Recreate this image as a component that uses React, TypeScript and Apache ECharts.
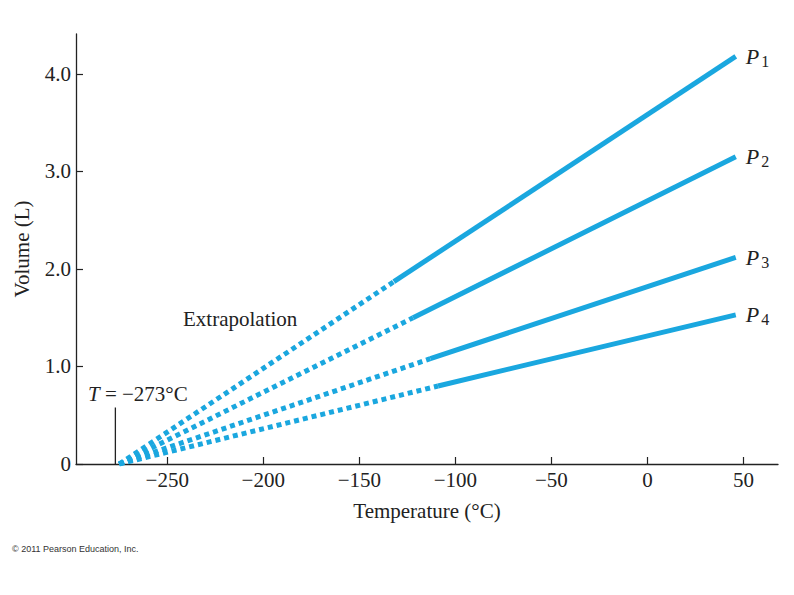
import React, { useEffect, useRef } from "react";
import * as echarts from "echarts";

const xTicks = [-250, -200, -150, -100, -50, 0, 50];
const yTicks = [0, 1, 2, 3, 4];
const pressureNames = ["1", "2", "3", "4"];
// absolute-zero convergence point
const zeroPoint: [number, number] = [-275, 0];
// start of measured (solid) segment for each pressure
const solidStart: [number, number][] = [
  [-132, 1.87],
  [-122, 1.5],
  [-113, 1.08],
  [-109, 0.8],
];
// end of measured segment for each pressure
const solidEnd: [number, number][] = [
  [46, 4.18],
  [46, 3.15],
  [46, 2.12],
  [46, 1.53],
];
const markerLine: [number, number][] = [
  [-277, 0],
  [-277, 0.58],
];

const COLOR = "#1aa7df";
const SERIF = "'Liberation Serif', 'Times New Roman', serif";
const TXT = "#222";

export default function App() {
  const ref = useRef<HTMLDivElement>(null);
  useEffect(() => {
    if (!ref.current) return;
    const chart = echarts.init(ref.current, null, { renderer: "svg" });
    const series: any[] = [];
    pressureNames.forEach((n, i) => {
      series.push({
        type: "line",
        data: [zeroPoint, solidStart[i]],
        symbol: "none",
        lineStyle: { color: COLOR, width: 5, type: [5, 4], cap: "butt" },
        silent: true,
      });
      series.push({
        type: "line",
        data: [solidStart[i], solidEnd[i]],
        symbol: "none",
        lineStyle: { color: COLOR, width: 5, cap: "butt" },
        silent: true,
        endLabel: {
          show: true,
          distance: 10,
          formatter: "{p|P}{s|" + n + "}",
          rich: {
            p: { fontFamily: SERIF, fontStyle: "italic", fontSize: 22, color: TXT, lineHeight: 24 },
            s: { fontFamily: SERIF, fontSize: 16, color: TXT, padding: [10, 0, 0, 2] },
          },
        },
      });
    });
    series.push({
      type: "line",
      data: markerLine,
      symbol: "none",
      lineStyle: { color: "#222", width: 1.3 },
      silent: true,
    });
    chart.setOption({
      animation: false,
      backgroundColor: "#fff",
      grid: { left: 76, right: 16, top: 34, bottom: 131, outerBoundsMode: "none" },
      xAxis: {
        type: "value",
        min: -297.5,
        max: 68,
        axisLine: { onZero: false, lineStyle: { color: "#222", width: 1.3 } },
        axisTick: { show: true, inside: true, length: 7, customValues: xTicks, lineStyle: { color: "#222", width: 1.2 } },
        axisLabel: {
          customValues: xTicks,
          fontFamily: SERIF,
          fontSize: 21,
          color: TXT,
          margin: 5,
          formatter: (v: number) => (v < 0 ? "\u2212" + Math.abs(v) : String(v)),
        },
        splitLine: { show: false },
        name: "Temperature (\u00B0C)",
        nameLocation: "middle",
        nameGap: 36,
        nameTextStyle: { fontFamily: SERIF, fontSize: 21, color: TXT },
      },
      yAxis: {
        type: "value",
        min: 0,
        max: 4.41,
        axisLine: { show: true, onZero: false, lineStyle: { color: "#222", width: 1.3 } },
        axisTick: { show: true, inside: true, length: 7, customValues: yTicks, lineStyle: { color: "#222", width: 1.2 } },
        axisLabel: {
          customValues: yTicks,
          fontFamily: SERIF,
          fontSize: 21,
          color: TXT,
          margin: 5,
          formatter: (v: number) => (v === 0 ? "0" : v.toFixed(1)),
        },
        splitLine: { show: false },
        name: "Volume (L)",
        nameLocation: "middle",
        nameGap: 44,
        nameRotate: 90,
        nameTextStyle: { fontFamily: SERIF, fontSize: 21, color: TXT },
      },
      graphic: [
        {
          type: "text",
          left: 183,
          top: 308,
          style: { text: "Extrapolation", font: "21px " + SERIF, fill: TXT },
        },
        {
          type: "text",
          left: 88,
          top: 383,
          style: {
            text: "{i|T} = \u2212273\u00B0C",
            font: "21px " + SERIF,
            fill: TXT,
            rich: { i: { fontFamily: SERIF, fontStyle: "italic", fontSize: 21, fill: TXT } },
          },
        },
        {
          type: "text",
          left: 12,
          top: 544,
          style: { text: "\u00A9 2011 Pearson Education, Inc.", font: "9px 'Liberation Sans', Arial, sans-serif", fill: "#333" },
        },
      ],
      series,
    });
    return () => chart.dispose();
  }, []);
  return <div ref={ref} style={{ position: "fixed", left: 0, top: 0, width: 794, height: 595 }} />;
}
